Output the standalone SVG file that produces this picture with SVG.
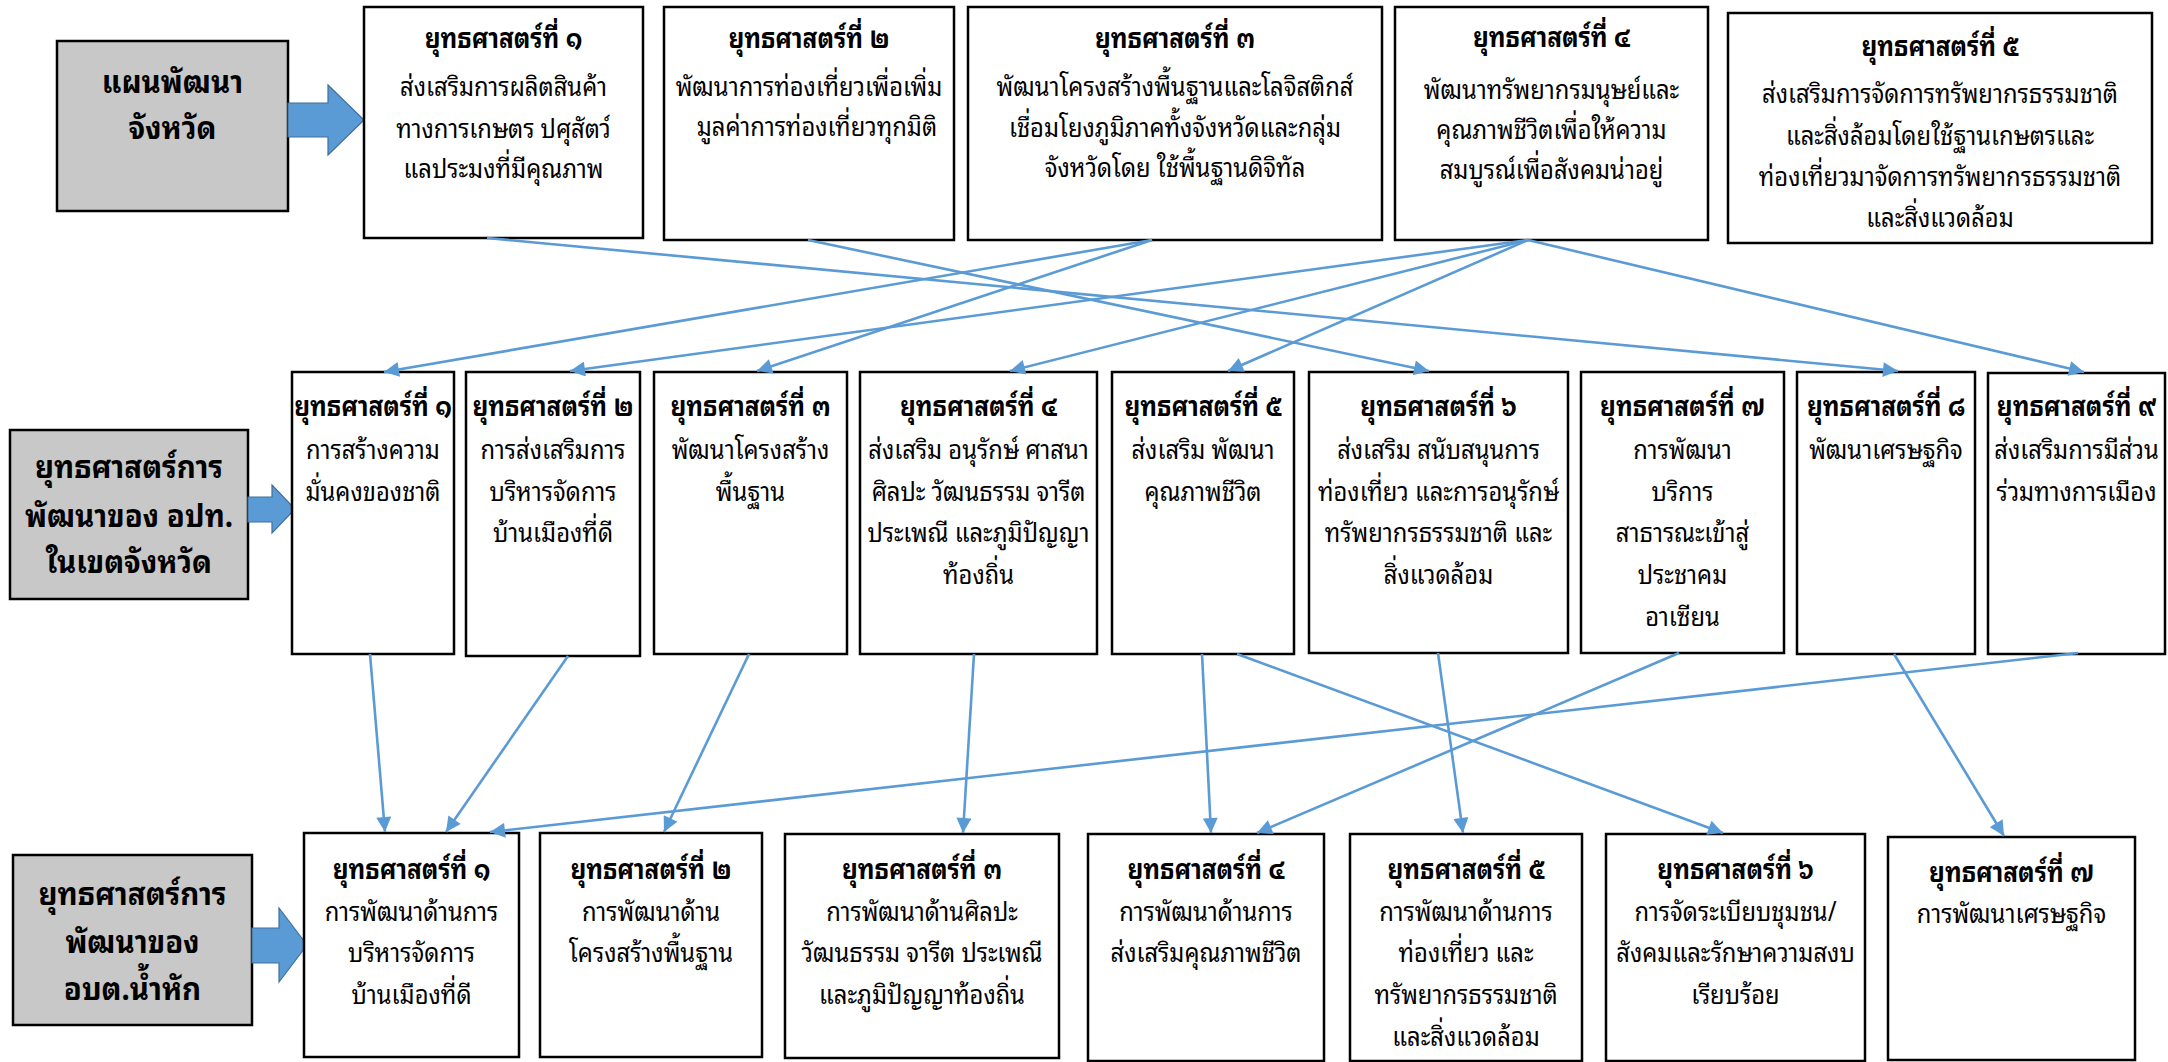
<svg xmlns="http://www.w3.org/2000/svg" width="2168" height="1062" viewBox="0 0 2168 1062">
<style>
.box{fill:#fff;stroke:#000;stroke-width:2.5}
.gray{fill:#C8C8C8;stroke:#000;stroke-width:2.5}
.blk{fill:#5B9BD5;stroke:#41719C;stroke-width:1.2}
text{font-family:"Noto Sans Thai Looped","Noto Sans Thai","Noto Sans",sans-serif;font-size:27px;text-anchor:middle;fill:#000}
.h{font-weight:bold;transform:scale(1.03,1)}
.g{font-weight:bold;font-size:32px}
.c line{stroke:#5B9BD5;stroke-width:2.6;fill:none;marker-end:url(#ah)}
</style>
<defs>
<marker id="ah" viewBox="0 0 10 10" refX="10" refY="5" markerUnits="userSpaceOnUse" markerWidth="16" markerHeight="15" orient="auto">
<path d="M0,0 L10,5 L0,10 Z" fill="#5B9BD5"/>
</marker>
</defs>
<rect width="2168" height="1062" fill="#fff"/>

<!-- Gray label boxes and block arrows -->
<g id="g1">
<rect class="gray" x="57" y="41" width="231" height="170"/>
<g transform="translate(172.5,0) scale(0.92,1)"><text class="g" x="0" y="93">แผนพัฒนา</text><text class="g" x="0" y="139">จังหวัด</text></g>
</g>
<path id="arrow1" class="blk" d="M288,103 H328 V85 L364,120 L328,155 V137 H288 Z"/>

<g id="g2">
<rect class="gray" x="10" y="430" width="238" height="169"/>
<g transform="translate(129,0) scale(0.92,1)"><text class="g" x="0" y="478">ยุทธศาสตร์การ</text><text class="g" x="0" y="527">พัฒนาของ อปท.</text><text class="g" x="0" y="573">ในเขตจังหวัด</text></g>
</g>
<path id="arrow2" class="blk" d="M248,497 H272 V485 L295,509 L272,533 V522 H248 Z"/>

<g id="g3">
<rect class="gray" x="13" y="855" width="239" height="170"/>
<g transform="translate(132.5,0) scale(0.92,1)"><text class="g" x="0" y="905">ยุทธศาสตร์การ</text><text class="g" x="0" y="953">พัฒนาของ</text><text class="g" x="0" y="1000">อบต.น้ำหัก</text></g>
</g>
<path id="arrow3" class="blk" d="M252,928 H279 V908 L307,945 L279,982 V963 H252 Z"/>

<!-- Top row: provincial strategies -->
<g id="t1">
<rect class="box" x="364" y="7" width="279" height="231"/>
<g transform="translate(503.5,0) scale(0.88,1)"><text class="h" x="0" y="48">ยุทธศาสตร์ที่ ๑</text><text x="0" y="96">ส่งเสริมการผลิตสินค้า</text><text x="0" y="138">ทางการเกษตร ปศุสัตว์</text><text x="0" y="178">แลประมงที่มีคุณภาพ</text></g>
</g>
<g id="t2">
<rect class="box" x="664" y="7" width="290" height="233"/>
<g transform="translate(809,0) scale(0.88,1)"><text class="h" x="0" y="48">ยุทธศาสตร์ที่ ๒</text><text x="0" y="96">พัฒนาการท่องเที่ยวเพื่อเพิ่ม</text><text x="9" y="136">มูลค่าการท่องเที่ยวทุกมิติ</text></g>
</g>
<g id="t3">
<rect class="box" x="968" y="7" width="414" height="233"/>
<g transform="translate(1175,0) scale(0.88,1)"><text class="h" x="0" y="48">ยุทธศาสตร์ที่ ๓</text><text x="0" y="96">พัฒนาโครงสร้างพื้นฐานและโลจิสติกส์</text><text x="0" y="137">เชื่อมโยงภูมิภาคทั้งจังหวัดและกลุ่ม</text><text x="0" y="177">จังหวัดโดย ใช้พื้นฐานดิจิทัล</text></g>
</g>
<g id="t4">
<rect class="box" x="1395" y="7" width="313" height="233"/>
<g transform="translate(1551.5,0) scale(0.88,1)"><text class="h" x="0" y="47">ยุทธศาสตร์ที่ ๔</text><text x="0" y="99">พัฒนาทรัพยากรมนุษย์และ</text><text x="0" y="139">คุณภาพชีวิตเพื่อให้ความ</text><text x="0" y="179">สมบูรณ์เพื่อสังคมน่าอยู่</text></g>
</g>
<g id="t5">
<rect class="box" x="1728" y="13" width="424" height="230"/>
<g transform="translate(1940,0) scale(0.88,1)"><text class="h" x="0" y="56">ยุทธศาสตร์ที่ ๕</text><text x="0" y="103">ส่งเสริมการจัดการทรัพยากรธรรมชาติ</text><text x="0" y="145">และสิ่งล้อมโดยใช้ฐานเกษตรและ</text><text x="0" y="186">ท่องเที่ยวมาจัดการทรัพยากรธรรมชาติ</text><text x="0" y="227">และสิ่งแวดล้อม</text></g>
</g>

<!-- Middle row: local government strategies in province -->
<g id="m1">
<rect class="box" x="292" y="372" width="162" height="282"/>
<g transform="translate(373,0) scale(0.88,1)"><text class="h" x="0" y="416">ยุทธศาสตร์ที่ ๑</text><text x="0" y="459">การสร้างความ</text><text x="0" y="501">มั่นคงของชาติ</text></g>
</g>
<g id="m2">
<rect class="box" x="466" y="372" width="174" height="284"/>
<g transform="translate(553,0) scale(0.88,1)"><text class="h" x="0" y="416">ยุทธศาสตร์ที่ ๒</text><text x="0" y="459">การส่งเสริมการ</text><text x="0" y="501">บริหารจัดการ</text><text x="0" y="542">บ้านเมืองที่ดี</text></g>
</g>
<g id="m3">
<rect class="box" x="654" y="372" width="193" height="282"/>
<g transform="translate(750.5,0) scale(0.88,1)"><text class="h" x="0" y="416">ยุทธศาสตร์ที่ ๓</text><text x="0" y="459">พัฒนาโครงสร้าง</text><text x="0" y="501">พื้นฐาน</text></g>
</g>
<g id="m4">
<rect class="box" x="860" y="372" width="237" height="282"/>
<g transform="translate(978.5,0) scale(0.88,1)"><text class="h" x="0" y="416">ยุทธศาสตร์ที่ ๔</text><text x="0" y="459">ส่งเสริม อนุรักษ์ ศาสนา</text><text x="0" y="501">ศิลปะ วัฒนธรรม จารีต</text><text x="0" y="542">ประเพณี และภูมิปัญญา</text><text x="0" y="584">ท้องถิ่น</text></g>
</g>
<g id="m5">
<rect class="box" x="1112" y="372" width="182" height="282"/>
<g transform="translate(1203,0) scale(0.88,1)"><text class="h" x="0" y="416">ยุทธศาสตร์ที่ ๕</text><text x="0" y="459">ส่งเสริม พัฒนา</text><text x="0" y="501">คุณภาพชีวิต</text></g>
</g>
<g id="m6">
<rect class="box" x="1309" y="372" width="259" height="281"/>
<g transform="translate(1438.5,0) scale(0.88,1)"><text class="h" x="0" y="416">ยุทธศาสตร์ที่ ๖</text><text x="0" y="459">ส่งเสริม สนับสนุนการ</text><text x="0" y="501">ท่องเที่ยว และการอนุรักษ์</text><text x="0" y="542">ทรัพยากรธรรมชาติ และ</text><text x="0" y="584">สิ่งแวดล้อม</text></g>
</g>
<g id="m7">
<rect class="box" x="1581" y="372" width="203" height="281"/>
<g transform="translate(1682.5,0) scale(0.88,1)"><text class="h" x="0" y="416">ยุทธศาสตร์ที่ ๗</text><text x="0" y="459">การพัฒนา</text><text x="0" y="501">บริการ</text><text x="0" y="542">สาธารณะเข้าสู่</text><text x="0" y="584">ประชาคม</text><text x="0" y="626">อาเซียน</text></g>
</g>
<g id="m8">
<rect class="box" x="1797" y="372" width="178" height="282"/>
<g transform="translate(1886,0) scale(0.88,1)"><text class="h" x="0" y="416">ยุทธศาสตร์ที่ ๘</text><text x="0" y="459">พัฒนาเศรษฐกิจ</text></g>
</g>
<g id="m9">
<rect class="box" x="1988" y="373" width="177" height="281"/>
<g transform="translate(2076.5,0) scale(0.88,1)"><text class="h" x="0" y="416">ยุทธศาสตร์ที่ ๙</text><text x="0" y="459">ส่งเสริมการมีส่วน</text><text x="0" y="501">ร่วมทางการเมือง</text></g>
</g>

<!-- Bottom row: SAO strategies -->
<g id="b1">
<rect class="box" x="304" y="833" width="215" height="224"/>
<g transform="translate(411.5,0) scale(0.88,1)"><text class="h" x="0" y="879">ยุทธศาสตร์ที่ ๑</text><text x="0" y="921">การพัฒนาด้านการ</text><text x="0" y="962">บริหารจัดการ</text><text x="0" y="1004">บ้านเมืองที่ดี</text></g>
</g>
<g id="b2">
<rect class="box" x="540" y="833" width="222" height="224"/>
<g transform="translate(651,0) scale(0.88,1)"><text class="h" x="0" y="879">ยุทธศาสตร์ที่ ๒</text><text x="0" y="921">การพัฒนาด้าน</text><text x="0" y="962">โครงสร้างพื้นฐาน</text></g>
</g>
<g id="b3">
<rect class="box" x="785" y="834" width="274" height="224"/>
<g transform="translate(922,0) scale(0.88,1)"><text class="h" x="0" y="879">ยุทธศาสตร์ที่ ๓</text><text x="0" y="921">การพัฒนาด้านศิลปะ</text><text x="0" y="962">วัฒนธรรม จารีต ประเพณี</text><text x="0" y="1004">และภูมิปัญญาท้องถิ่น</text></g>
</g>
<g id="b4">
<rect class="box" x="1088" y="834" width="236" height="227"/>
<g transform="translate(1206,0) scale(0.88,1)"><text class="h" x="0" y="879">ยุทธศาสตร์ที่ ๔</text><text x="0" y="921">การพัฒนาด้านการ</text><text x="0" y="962">ส่งเสริมคุณภาพชีวิต</text></g>
</g>
<g id="b5">
<rect class="box" x="1350" y="834" width="232" height="227"/>
<g transform="translate(1466,0) scale(0.88,1)"><text class="h" x="0" y="879">ยุทธศาสตร์ที่ ๕</text><text x="0" y="921">การพัฒนาด้านการ</text><text x="0" y="962">ท่องเที่ยว และ</text><text x="0" y="1004">ทรัพยากรธรรมชาติ</text><text x="0" y="1046">และสิ่งแวดล้อม</text></g>
</g>
<g id="b6">
<rect class="box" x="1606" y="834" width="259" height="227"/>
<g transform="translate(1735.5,0) scale(0.88,1)"><text class="h" x="0" y="879">ยุทธศาสตร์ที่ ๖</text><text x="0" y="921">การจัดระเบียบชุมชน/</text><text x="0" y="962">สังคมและรักษาความสงบ</text><text x="0" y="1004">เรียบร้อย</text></g>
</g>
<g id="b7">
<rect class="box" x="1888" y="837" width="247" height="223"/>
<g transform="translate(2011.5,0) scale(0.88,1)"><text class="h" x="0" y="882">ยุทธศาสตร์ที่ ๗</text><text x="0" y="923">การพัฒนาเศรษฐกิจ</text></g>
</g>

<!-- Connectors -->
<g id="connectors" class="c">
<line x1="487" y1="238" x2="1898" y2="371"/>
<line x1="808" y1="240" x2="1429" y2="371"/>
<line x1="1152" y1="240" x2="384" y2="372"/>
<line x1="1152" y1="240" x2="757" y2="371"/>
<line x1="1528" y1="240" x2="570" y2="371"/>
<line x1="1528" y1="240" x2="1010" y2="371"/>
<line x1="1528" y1="240" x2="1228" y2="371"/>
<line x1="1528" y1="240" x2="2084" y2="372"/>
<line x1="370" y1="654" x2="385" y2="832"/>
<line x1="568" y1="656" x2="446" y2="832"/>
<line x1="749" y1="654" x2="664" y2="832"/>
<line x1="974" y1="654" x2="963" y2="833"/>
<line x1="1202" y1="654" x2="1211" y2="833"/>
<line x1="1237" y1="654" x2="1723" y2="833"/>
<line x1="1438" y1="653" x2="1463" y2="833"/>
<line x1="1679" y1="653" x2="1257" y2="833"/>
<line x1="1894" y1="654" x2="2004" y2="836"/>
<line x1="2078" y1="653" x2="490" y2="832"/>
</g>
</svg>
